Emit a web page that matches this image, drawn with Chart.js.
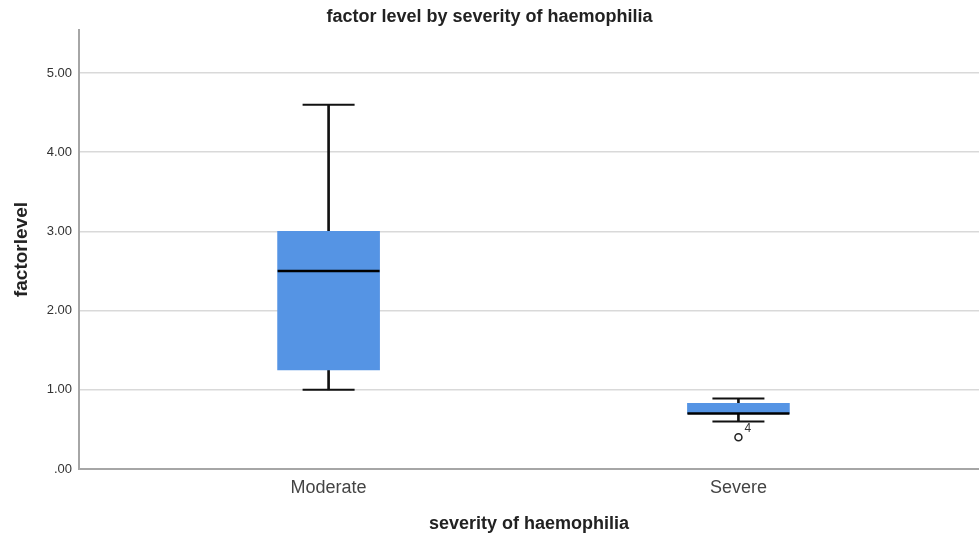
<!DOCTYPE html>
<html>
<head>
<meta charset="utf-8">
<script src="https://cdn.jsdelivr.net/npm/chart.js@4"></script>
<style>
  html, body { margin: 0; padding: 0; background: #fff; }
  #wrap { width: 979px; height: 536px; }
</style>
</head>
<body>
<div id="wrap"><canvas id="boxChart" width="979" height="536"></canvas></div>
<script>
const categories = ['Moderate', 'Severe'];
const minVals = [1.0, 0.6];
const q1Vals = [1.25, 0.7];
const medianVals = [2.5, 0.7];
const q3Vals = [3.0, 0.83];
const maxVals = [4.6, 0.89];
const outlierCats = [1];
const outlierVals = [0.4];
const outlierLabels = ['4'];
const yTicks = [0, 1, 2, 3, 4, 5];

const font = "'Liberation Sans', Arial, sans-serif";
const boxBlue = '#5594e4';

const idx = categories.map((c, i) => i);

// small label beside the outlier point
const outlierLabelPlugin = {
    id: 'outlierLabel',
    afterDatasetsDraw(chart) {
        const meta = chart.getDatasetMeta(5);
        const c = chart.ctx;
        c.save();
        c.font = '12px ' + font;
        c.fillStyle = '#333';
        c.textAlign = 'left';
        c.textBaseline = 'middle';
        meta.data.forEach((pt, i) => {
            c.fillText(outlierLabels[i], pt.x + 6, pt.y - 9);
        });
        c.restore();
    }
};

new Chart(document.getElementById('boxChart'), {
    type: 'bar',
    data: {
        datasets: [
            {
                label: 'median',
                type: 'scatter',
                data: idx.map(i => ({ x: i, y: medianVals[i] })),
                pointStyle: 'line',
                radius: 51,
                borderColor: '#000',
                borderWidth: 2.5,
                order: 0
            },
            {
                label: 'box',
                data: idx.map(i => ({ x: i, y: [q1Vals[i], q3Vals[i]] })),
                backgroundColor: boxBlue,
                borderWidth: 0,
                barThickness: 102,
                grouped: false,
                order: 2
            },
            {
                label: 'upper whisker',
                data: idx.map(i => ({ x: i, y: [q3Vals[i], maxVals[i]] })),
                backgroundColor: '#111',
                barThickness: 2,
                grouped: false,
                order: 3
            },
            {
                label: 'lower whisker',
                data: idx.map(i => ({ x: i, y: [minVals[i], q1Vals[i]] })),
                backgroundColor: '#111',
                barThickness: 2,
                grouped: false,
                order: 3
            },
            {
                label: 'caps',
                type: 'scatter',
                data: idx.map(i => ({ x: i, y: maxVals[i] })).concat(idx.map(i => ({ x: i, y: minVals[i] }))),
                pointStyle: 'line',
                radius: 26,
                borderColor: '#111',
                borderWidth: 2,
                order: 1
            },
            {
                label: 'outliers',
                type: 'scatter',
                data: outlierCats.map((c, i) => ({ x: c, y: outlierVals[i] })),
                pointStyle: 'circle',
                radius: 3.5,
                backgroundColor: '#fff',
                borderColor: '#222',
                borderWidth: 1.5,
                order: 1
            }
        ]
    },
    plugins: [outlierLabelPlugin],
    options: {
        responsive: false,
        animation: false,
        layout: { padding: 0, autoPadding: false },
        plugins: {
            legend: { display: false },
            tooltip: { enabled: false },
            title: {
                display: true,
                text: 'factor level by severity of haemophilia',
                color: '#222',
                font: { family: font, size: 18, weight: 'bold' },
                padding: { top: 6.2, bottom: 2.2 }
            }
        },
        scales: {
            x: {
                type: 'linear',
                min: -0.609,
                max: 1.587,
                offset: false,
                afterBuildTicks: scale => { scale.ticks = idx.map(i => ({ value: i })); },
                afterFit: scale => { scale.height = 67; },
                grid: { display: false, drawTicks: false },
                border: { display: true, color: '#a6a6a6', width: 2 },
                ticks: {
                    padding: 8,
                    color: '#444',
                    font: { family: font, size: 18 },
                    callback: v => categories[v]
                },
                title: {
                    display: true,
                    text: 'severity of haemophilia',
                    color: '#222',
                    font: { family: font, size: 18, weight: 'bold' },
                    padding: { top: 0, bottom: 1.6 }
                }
            },
            y: {
                min: 0,
                max: 5.543,
                afterBuildTicks: scale => { scale.ticks = yTicks.map(v => ({ value: v })); },
                afterFit: scale => { scale.width = 79; },
                grid: { color: '#d9d9d9', lineWidth: 1.5, drawTicks: false },
                border: { display: true, color: '#a6a6a6', width: 2 },
                ticks: {
                    padding: 7,
                    color: '#333',
                    font: { family: font, size: 13 },
                    callback: v => v === 0 ? '.00' : v.toFixed(2)
                },
                title: {
                    display: true,
                    text: 'factorlevel',
                    color: '#222',
                    font: { family: font, size: 19, weight: 'bold' },
                    padding: { top: 10, bottom: 0 }
                }
            }
        }
    }
});
</script>
</body>
</html>
